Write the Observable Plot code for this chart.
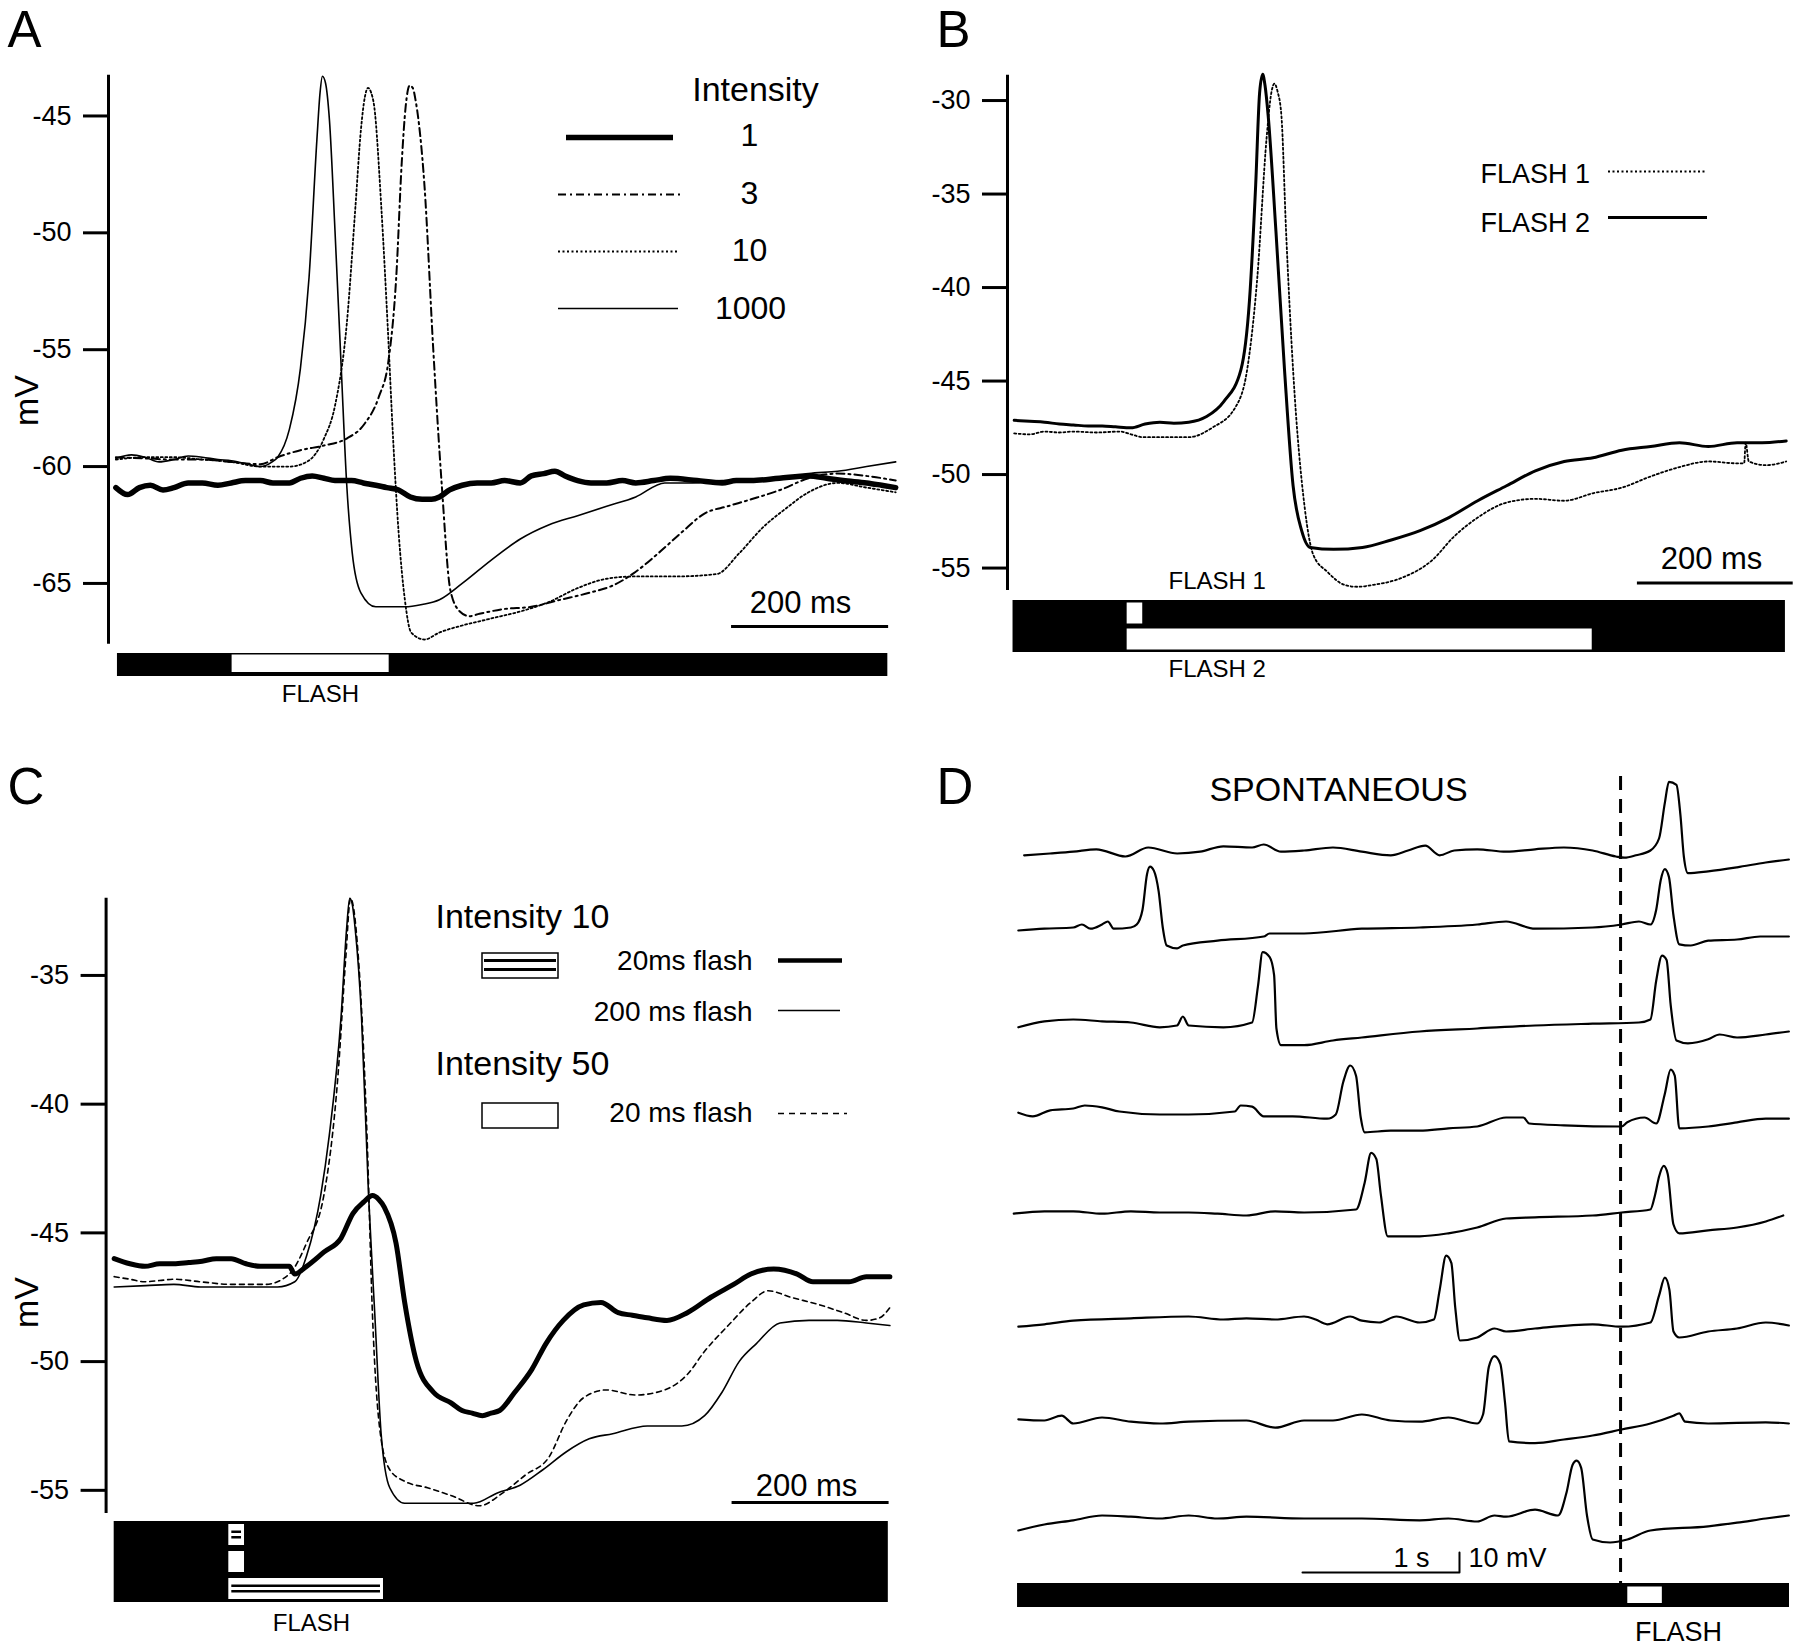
<!DOCTYPE html>
<html>
<head>
<meta charset="utf-8">
<script src="https://cdn.jsdelivr.net/npm/d3@7"></script>
<script src="https://cdn.jsdelivr.net/npm/@observablehq/plot@0.6"></script>
<style>
html, body { margin: 0; padding: 0; background: #fff; }
#fig { position: relative; width: 1800px; height: 1650px; overflow: hidden; background: #fff; color: #000; }
#fig svg { position: absolute; overflow: visible; max-width: none; }
</style>
</head>
<body>
<div id="fig"></div>
<script>
// ---------------- DATA (time in ms or s, membrane potential in mV) ----------------
// Panel A: responses to 200 ms flashes of different intensity
const A_ticks = [-45, -50, -55, -60, -65];
const A_i1 = [[0,-60.9],[15,-61.2],[30,-60.9],[44,-60.8],[60,-61.0],[74,-60.9],[92,-60.7],[110,-60.7],[130,-60.8],[147,-60.7],[165,-60.6],[184,-60.6],[200,-60.7],[221,-60.7],[235,-60.5],[250,-60.4],[265,-60.5],[279,-60.6],[300,-60.6],[315,-60.7],[331,-60.8],[345,-60.9],[360,-61.0],[375,-61.3],[390,-61.4],[402,-61.4],[412,-61.3],[425,-61.0],[441,-60.8],[460,-60.7],[478,-60.7],[495,-60.6],[515,-60.7],[529,-60.4],[545,-60.3],[559,-60.2],[572,-60.4],[588,-60.6],[605,-60.7],[625,-60.7],[645,-60.6],[662,-60.7],[685,-60.6],[706,-60.5],[740,-60.6],[772,-60.7],[790,-60.6],[809,-60.6],[845,-60.5],[882,-60.4],[905,-60.5],[926,-60.6],[956,-60.7],[975,-60.8],[993,-60.9]];
const A_i3 = [[0,-59.6],[37,-59.65],[74,-59.7],[110,-59.7],[147,-59.8],[184,-59.9],[206,-59.6],[235,-59.3],[265,-59.1],[294,-58.8],[316,-58.2],[335,-57.0],[347,-55.5],[357,-51.9],[364,-47.0],[369,-44.6],[374,-43.7],[378,-43.8],[382,-44.4],[393,-48.0],[404,-54.9],[415,-60.8],[426,-65.3],[438,-66.2],[450,-66.4],[463,-66.3],[493,-66.1],[529,-66.0],[566,-65.7],[603,-65.4],[632,-65.1],[662,-64.5],[691,-63.7],[721,-62.8],[750,-62.0],[779,-61.7],[809,-61.4],[846,-61.0],[882,-60.5],[919,-60.3],[956,-60.4],[993,-60.6]];
const A_i10 = [[0,-59.7],[37,-59.6],[74,-59.6],[110,-59.7],[147,-59.8],[184,-60.0],[221,-60.0],[243,-59.8],[265,-58.8],[279,-57.4],[294,-53.9],[305,-48.9],[312,-45.6],[317,-44.2],[321,-43.8],[325,-44.0],[329,-44.6],[338,-48.9],[346,-53.9],[353,-58.8],[360,-62.8],[368,-65.7],[376,-67.1],[393,-67.4],[412,-67.1],[441,-66.8],[478,-66.5],[515,-66.2],[551,-65.8],[588,-65.2],[625,-64.8],[662,-64.7],[713,-64.7],[765,-64.6],[794,-63.7],[824,-62.6],[853,-61.8],[882,-61.1],[919,-60.7],[956,-60.9],[993,-61.1]];
const A_i1000 = [[0,-59.65],[20,-59.5],[37,-59.6],[55,-59.8],[74,-59.7],[92,-59.55],[110,-59.6],[130,-59.7],[147,-59.75],[169,-59.9],[184,-60.0],[199,-59.8],[206,-59.6],[221,-58.4],[235,-55.8],[246,-51.9],[256,-46.0],[260,-44.0],[263,-43.3],[267,-43.6],[272,-45.2],[279,-49.9],[287,-55.8],[294,-60.8],[301,-63.7],[312,-65.4],[331,-66.0],[368,-66.0],[390,-65.9],[412,-65.7],[441,-65.0],[478,-64.0],[515,-63.1],[551,-62.5],[588,-62.1],[625,-61.7],[662,-61.3],[699,-60.7],[735,-60.7],[772,-60.6],[809,-60.6],[846,-60.5],[882,-60.3],[919,-60.2],[956,-60.0],[993,-59.8]];
const A_flash = [{t1: 148, t2: 348}];
const A_stimulusSpan = [{t1: 2, t2: 983}];
const A_scaleBar = [{t1: 784, t2: 984}];

// Panel B: FLASH 1 (20 ms) vs FLASH 2 (600 ms)
const B_ticks = [-30, -35, -40, -45, -50, -55];
const B_flash2 = [[0,-47.1],[20,-47.15],[39,-47.2],[58,-47.3],[76,-47.35],[95,-47.4],[113,-47.4],[130,-47.45],[150,-47.5],[168,-47.3],[187,-47.2],[205,-47.25],[224,-47.2],[247,-46.9],[269,-46.1],[291,-44.4],[302,-40.7],[310,-34.5],[315,-29.6],[319,-28.6],[322,-29.2],[326,-30.8],[336,-37.0],[347,-44.4],[358,-50.6],[369,-53.0],[380,-53.9],[410,-54.0],[447,-53.9],[484,-53.5],[521,-53.0],[558,-52.3],[595,-51.4],[632,-50.6],[669,-49.8],[706,-49.3],[743,-49.1],[780,-48.7],[817,-48.5],[854,-48.3],[891,-48.5],[928,-48.3],[960,-48.3],[991,-48.2]];
const B_flash1 = [[0,-47.8],[20,-47.85],[39,-47.7],[58,-47.75],[76,-47.7],[105,-47.75],[136,-47.7],[150,-47.85],[165,-48.0],[195,-48.0],[224,-48.0],[254,-47.5],[284,-46.4],[299,-44.4],[312,-39.5],[324,-32.0],[330,-29.6],[334,-29.1],[338,-29.5],[343,-30.8],[349,-37.0],[358,-44.4],[373,-51.8],[384,-54.3],[402,-55.2],[424,-55.9],[440,-56.0],[461,-55.9],[499,-55.5],[536,-54.6],[565,-53.3],[595,-52.3],[632,-51.5],[669,-51.3],[706,-51.4],[743,-51.0],[780,-50.7],[817,-50.1],[854,-49.6],[891,-49.3],[928,-49.4],[937,-49.4],[939,-48.3],[943,-49.3],[965,-49.5],[991,-49.3]];
const B_rows = ["FLASH 1", "FLASH 2"];
const B_flashes = [{row: "FLASH 1", t1: 145, t2: 165}, {row: "FLASH 2", t1: 145, t2: 742}];
const B_stimulusSpan = [{t1: -1.5, t2: 990}];
const B_scaleBar = [{t1: 800, t2: 1000}];

// Panel C: intensity 10 (20 ms, 200 ms) and intensity 50 (20 ms)
const C_ticks = [-35, -40, -45, -50, -55];
const C_i10_20 = [[0,-46.0],[20,-46.2],[39,-46.3],[58,-46.2],[76,-46.2],[95,-46.15],[112,-46.1],[130,-46.0],[149,-46.0],[168,-46.2],[186,-46.3],[205,-46.3],[223,-46.3],[230,-46.6],[245,-46.3],[267,-45.75],[289,-45.2],[304,-44.25],[318,-43.8],[329,-43.55],[337,-43.7],[344,-44.0],[359,-45.4],[370,-47.7],[385,-50.0],[407,-51.2],[429,-51.6],[443,-51.9],[456,-52.0],[469,-52.1],[480,-52.0],[491,-51.9],[510,-51.2],[532,-50.3],[550,-49.3],[572,-48.4],[598,-47.8],[620,-47.7],[642,-48.1],[660,-48.2],[679,-48.3],[704,-48.4],[730,-48.1],[760,-47.5],[789,-47.0],[811,-46.6],[840,-46.4],[870,-46.6],[890,-46.9],[907,-46.9],[936,-46.9],[958,-46.7],[988,-46.7]];
const C_i10_200 = [[0,-47.1],[40,-47.05],[76,-47.0],[110,-47.1],[149,-47.1],[180,-47.1],[208,-47.1],[230,-46.9],[245,-45.9],[263,-43.55],[274,-41.2],[289,-36.6],[296,-33.2],[300,-32.0],[303,-32.2],[307,-33.2],[315,-36.6],[324,-43.55],[332,-48.2],[340,-52.8],[351,-54.9],[370,-55.5],[414,-55.5],[458,-55.5],[488,-55.1],[517,-54.8],[546,-54.2],[576,-53.5],[605,-53.0],[635,-52.8],[679,-52.5],[723,-52.5],[752,-52.1],[774,-51.2],[796,-50.0],[818,-49.3],[848,-48.5],[885,-48.4],[921,-48.4],[958,-48.5],[988,-48.6]];
const C_i50_20 = [[0,-46.7],[20,-46.8],[39,-46.9],[58,-46.85],[76,-46.8],[110,-46.9],[149,-47.0],[193,-47.0],[223,-46.6],[245,-45.4],[267,-43.55],[285,-38.9],[295,-34.3],[301,-32.0],[305,-32.4],[311,-34.3],[322,-41.2],[329,-48.2],[339,-52.8],[351,-54.2],[370,-54.65],[399,-54.9],[429,-55.2],[465,-55.6],[495,-55.1],[524,-54.4],[554,-53.7],[576,-52.3],[598,-51.4],[627,-51.1],[664,-51.3],[701,-51.1],[730,-50.5],[752,-49.6],[782,-48.6],[811,-47.7],[833,-47.25],[862,-47.5],[899,-47.8],[929,-48.1],[958,-48.4],[975,-48.3],[988,-47.9]];
const C_rows = ["int10_20ms", "int50_20ms", "int10_200ms"];
const C_flashes = [
  {row: "int10_20ms", t1: 146, t2: 166, striped: true},
  {row: "int50_20ms", t1: 146, t2: 166, striped: false},
  {row: "int10_200ms", t1: 146, t2: 343, striped: true}
];
const C_stimulusSpan = [{t1: 0, t2: 986}];
const C_scaleBar = [{t1: 787, t2: 987}];

// Panel D: spontaneous spikes and flash-evoked spikes (time in s, mV relative to each trace's rest)
const D_row1 = [[0.055,-0.9],[0.22,0],[0.368,0.9],[0.515,2.1],[0.70,-1.5],[0.846,3.0],[1.03,0],[1.176,0.9],[1.324,3.6],[1.507,3.0],[1.581,4.5],[1.691,0.9],[1.838,1.5],[2.022,3.0],[2.206,0.9],[2.39,-0.9],[2.5,1.5],[2.61,3.9],[2.702,-0.9],[2.794,1.5],[2.941,2.1],[3.125,0.9],[3.309,2.1],[3.493,3.0],[3.676,1.5],[3.824,-1.5],[3.879,-2.1],[3.952,-0.9],[4.044,1.5],[4.099,7.5],[4.136,25.3],[4.162,35.8],[4.21,34.3],[4.235,19.4],[4.257,-1.5],[4.283,-9.8],[4.412,-8.9],[4.596,-6.9],[4.779,-4.5],[4.926,-3.0]];
const D_row2 = [[0.018,0],[0.184,0.9],[0.368,1.5],[0.423,3.0],[0.478,0.9],[0.551,3.0],[0.588,4.5],[0.625,0.9],[0.735,1.5],[0.772,3.0],[0.809,10.4],[0.838,28.3],[0.857,31.9],[0.882,29.8],[0.912,19.4],[0.938,1.5],[0.963,-7.5],[1.029,-8.9],[1.066,-7.5],[1.287,-5.1],[1.581,-3.0],[1.618,-1.5],[1.838,-1.5],[2.206,0.9],[2.574,1.5],[2.941,3.0],[3.125,4.5],[3.309,0.9],[3.676,1.5],[3.86,3.0],[3.971,4.5],[4.044,3.0],[4.081,10.4],[4.11,25.3],[4.136,30.7],[4.162,26.8],[4.191,7.5],[4.228,-6.9],[4.301,-7.5],[4.412,-5.1],[4.596,-4.5],[4.743,-3.0],[4.926,-3.0]];
const D_row3 = [[0.018,-0.9],[0.184,2.1],[0.368,3.0],[0.551,2.1],[0.735,1.5],[0.919,-0.9],[1.029,0],[1.066,4.5],[1.103,0],[1.324,-0.9],[1.507,1.5],[1.544,19.4],[1.574,36.7],[1.618,34.3],[1.647,25.3],[1.662,-1.5],[1.691,-9.8],[1.838,-9.8],[2.022,-7.5],[2.206,-6.0],[2.574,-3.0],[2.941,-1.5],[3.309,0],[3.676,0.9],[3.971,1.5],[4.044,3.0],[4.081,22.4],[4.118,34.9],[4.147,32.8],[4.173,10.4],[4.21,-7.5],[4.283,-8.9],[4.412,-6.9],[4.485,-4.5],[4.596,-6.0],[4.779,-4.5],[4.926,-3.0]];
const D_row4 = [[0.018,0.9],[0.11,-0.9],[0.221,2.1],[0.368,3.0],[0.441,4.5],[0.551,3.6],[0.662,1.5],[0.919,0],[1.103,0],[1.397,1.5],[1.434,4.5],[1.507,3.9],[1.581,-0.9],[1.765,-0.9],[1.985,-2.1],[2.04,0],[2.088,16.4],[2.132,24.5],[2.169,19.4],[2.199,-1.5],[2.224,-8.9],[2.39,-8.1],[2.574,-8.1],[2.757,-6.9],[2.941,-6.0],[3.125,-1.5],[3.235,-1.5],[3.272,-4.5],[3.493,-5.4],[3.86,-6.0],[3.897,-3.9],[4.007,-1.5],[4.081,-4.5],[4.136,10.4],[4.173,22.4],[4.199,19.4],[4.228,-6.9],[4.412,-6.0],[4.596,-3.9],[4.779,-2.1],[4.926,-2.1]];
const D_row5 = [[-0.011,-0.6],[0.184,0.6],[0.368,0.6],[0.551,-0.6],[0.735,0.6],[0.919,0],[1.103,0],[1.287,-0.6],[1.471,-1.5],[1.654,0.6],[1.838,0],[2.169,1.5],[2.224,14.9],[2.265,29.8],[2.298,26.8],[2.327,8.9],[2.371,-11.9],[2.574,-11.9],[2.757,-10.4],[2.941,-7.5],[3.125,-3.0],[3.309,-2.4],[3.676,-1.5],[3.86,0],[4.044,1.5],[4.074,8.9],[4.099,17.9],[4.129,23.3],[4.154,19.4],[4.191,-6.0],[4.228,-10.4],[4.412,-8.9],[4.596,-7.5],[4.779,-4.5],[4.89,-1.5]];
const D_row6 = [[0.018,-0.6],[0.184,0.6],[0.368,2.4],[0.735,3.6],[1.103,4.5],[1.324,3.0],[1.471,3.6],[1.654,3.0],[1.838,4.5],[1.912,3.0],[1.985,0.6],[2.132,4.5],[2.206,2.4],[2.316,1.5],[2.426,4.5],[2.574,1.5],[2.665,3.0],[2.702,17.9],[2.743,34.9],[2.776,31.3],[2.801,8.9],[2.831,-7.5],[2.941,-6.0],[3.051,-1.5],[3.125,-3.0],[3.309,-1.5],[3.676,0.6],[3.86,-0.6],[4.044,1.5],[4.099,14.9],[4.136,23.9],[4.165,17.9],[4.191,-3.0],[4.228,-6.0],[4.412,-3.0],[4.596,-1.5],[4.779,1.5],[4.926,0]];
const D_row7 = [[0.018,0.6],[0.184,0],[0.294,2.4],[0.368,-1.5],[0.551,1.5],[0.735,-0.6],[0.919,-1.5],[1.103,-0.6],[1.471,0],[1.654,-3.6],[1.838,0],[2.022,0],[2.206,3.0],[2.39,0],[2.574,-0.6],[2.757,1.5],[2.941,-1.5],[2.978,3.0],[3.015,26.8],[3.051,32.2],[3.088,28.3],[3.118,8.9],[3.143,-10.4],[3.309,-11.3],[3.493,-9.5],[3.676,-7.5],[3.86,-4.5],[4.044,-1.5],[4.191,2.4],[4.228,3.6],[4.265,-0.6],[4.412,-1.5],[4.779,-0.9],[4.926,-1.5]];
const D_row8 = [[0.018,0],[0.184,3.0],[0.368,5.1],[0.551,7.5],[0.735,6.9],[0.919,6.0],[1.103,7.5],[1.287,6.0],[1.471,6.9],[1.838,6.0],[2.206,6.0],[2.574,5.1],[2.757,6.0],[2.941,4.5],[3.051,7.5],[3.125,6.9],[3.309,10.4],[3.456,7.5],[3.511,19.4],[3.548,32.8],[3.574,34.9],[3.603,31.3],[3.64,7.5],[3.676,-4.5],[3.787,-6.0],[3.897,-4.5],[4.044,0],[4.412,2.1],[4.596,3.9],[4.779,6.0],[4.926,7.5]];
const D_rows = [D_row1, D_row2, D_row3, D_row4, D_row5, D_row6, D_row7, D_row8];
const D_rowOffsets = [0, -38.5, -86, -130.5, -179.5, -236, -283.5, -338.5]; // vertical stacking of the 8 sweeps (mV)
const D_flashOnset = [3.854];
const D_flash = [{t1: 3.90, t2: 4.12}];
const D_stimulusSpan = [{t1: 0.013, t2: 4.93}];
const D_scaleBar = {t: 1.828, dur: 1, v: -359.5, mv: 10};

// ---------------- LAYOUT / STYLE ----------------
const FONT = '"Liberation Sans", Arial, Helvetica, sans-serif';
const baseStyle = {background: "transparent", fontFamily: FONT, overflow: "visible", color: "black"};
const CURVE = "monotone-x";
const fig = document.getElementById("fig");
function place(node, left, top) {
  node.style.position = "absolute";
  node.style.left = left + "px";
  node.style.top = top + "px";
  fig.appendChild(node);
}
const pts = (arr) => arr.map(([t, v]) => ({t, v}));
const yAxis = (ticks) => Plot.axisY({ticks, tickSize: 25, tickPadding: 12, strokeWidth: 3, fontSize: 27, tickFormat: d => String(d), label: null});

// ---------------- PANEL A ----------------
const A_x = [-9.4, 992];
const A_y = [-67.6, -43.26];
place(Plot.plot({
  width: 900, height: 660, marginTop: 74.8, marginBottom: 16.3, marginLeft: 108, marginRight: 5.6,
  style: baseStyle,
  x: {domain: A_x, axis: null},
  y: {domain: A_y},
  marks: [
    Plot.ruleX([A_x[0]], {strokeWidth: 3}),
    yAxis(A_ticks),
    Plot.line(pts(A_i1), {x: "t", y: "v", curve: CURVE, strokeWidth: 5.5, strokeLinejoin: "round"}),
    Plot.line(pts(A_i3), {x: "t", y: "v", curve: CURVE, strokeWidth: 2, strokeDasharray: "8,4,2,4"}),
    Plot.line(pts(A_i10), {x: "t", y: "v", curve: CURVE, strokeWidth: 1.8, strokeDasharray: "2,2.5"}),
    Plot.line(pts(A_i1000), {x: "t", y: "v", curve: CURVE, strokeWidth: 1.6}),
    Plot.ruleY(A_scaleBar, {y: () => A_y[0], x1: "t1", x2: "t2", dy: -17.7, strokeWidth: 3})
  ]
}), 0, 0);
place(Plot.plot({
  width: 900, height: 23, margin: 0, marginLeft: 108, marginRight: 5.6,
  style: baseStyle,
  x: {domain: A_x, axis: null},
  marks: [
    Plot.barX(A_stimulusSpan, {x1: "t1", x2: "t2", fill: "black"}),
    Plot.barX(A_flash, {x1: "t1", x2: "t2", fill: "white", insetTop: 1.5, insetBottom: 4})
  ]
}), 0, 653);

// ---------------- PANEL B ----------------
const B_x = [-8.6, 991];
const B_y = [-56.2, -28.65];
place(Plot.plot({
  width: 900, height: 610, marginTop: 74.8, marginBottom: 20, marginLeft: 107, marginRight: 14.3,
  style: baseStyle,
  x: {domain: B_x, axis: null},
  y: {domain: B_y},
  marks: [
    Plot.ruleX([B_x[0]], {strokeWidth: 3}),
    yAxis(B_ticks),
    Plot.line(pts(B_flash1), {x: "t", y: "v", curve: CURVE, strokeWidth: 1.8, strokeDasharray: "2,2.5"}),
    Plot.line(pts(B_flash2), {x: "t", y: "v", curve: CURVE, strokeWidth: 3, strokeLinejoin: "round"}),
    Plot.ruleY(B_scaleBar, {y: () => B_y[0], x1: "t1", x2: "t2", dy: -7.6, strokeWidth: 3})
  ]
}), 900, 0);
place(Plot.plot({
  width: 900, height: 52, margin: 0, marginLeft: 107, marginRight: 14.3,
  style: baseStyle,
  x: {domain: B_x, axis: null},
  y: {domain: B_rows, padding: 0, axis: null},
  marks: [
    Plot.barX(B_stimulusSpan, {x1: "t1", x2: "t2", fill: "black"}),
    Plot.barX(B_flashes, {x1: "t1", x2: "t2", y: "row", fill: "white", insetTop: 2.5, insetBottom: 2.5})
  ]
}), 900, 600);

// ---------------- PANEL C ----------------
const C_x = [-10.3, 987];
const C_y = [-55.9, -32.0];
place(Plot.plot({
  width: 900, height: 770, marginTop: 137.7, marginBottom: 17, marginLeft: 105.6, marginRight: 11.4,
  style: baseStyle,
  x: {domain: C_x, axis: null},
  y: {domain: C_y},
  marks: [
    Plot.ruleX([C_x[0]], {strokeWidth: 3}),
    yAxis(C_ticks),
    Plot.line(pts(C_i50_20), {x: "t", y: "v", curve: CURVE, strokeWidth: 1.6, strokeDasharray: "5,4"}),
    Plot.line(pts(C_i10_200), {x: "t", y: "v", curve: CURVE, strokeWidth: 1.6}),
    Plot.line(pts(C_i10_20), {x: "t", y: "v", curve: CURVE, strokeWidth: 5, strokeLinejoin: "round"}),
    Plot.ruleY(C_scaleBar, {y: () => C_y[0], x1: "t1", x2: "t2", dy: -11, strokeWidth: 3})
  ]
}), 0, 760);
const C_striped = C_flashes.filter(d => d.striped);
place(Plot.plot({
  width: 900, height: 81, margin: 0, marginLeft: 105.6, marginRight: 11.4,
  style: baseStyle,
  x: {domain: C_x, axis: null},
  y: {domain: C_rows, padding: 0, axis: null},
  marks: [
    Plot.barX(C_stimulusSpan, {x1: "t1", x2: "t2", fill: "black"}),
    Plot.barX(C_flashes, {x1: "t1", x2: "t2", y: "row", fill: "white", insetTop: 3, insetBottom: 3}),
    Plot.barX(C_striped, {x1: "t1", x2: "t2", y: "row", fill: "black", insetTop: 9.5, insetBottom: 15, insetLeft: 3, insetRight: 3}),
    Plot.barX(C_striped, {x1: "t1", x2: "t2", y: "row", fill: "black", insetTop: 15, insetBottom: 9.5, insetLeft: 3, insetRight: 3})
  ]
}), 0, 1521);

// ---------------- PANEL D ----------------
const D_x = [0, 4.93];
const D_y = [-398.5, 66.5];
const D_lines = D_rows.map((row, i) => Plot.line(row.map(([t, v]) => ({t, v: v + D_rowOffsets[i]})), {x: "t", y: "v", curve: CURVE, strokeWidth: 2.2, strokeLinejoin: "round"}));
const D_bar = [
  {t: D_scaleBar.t, v: D_scaleBar.v},
  {t: D_scaleBar.t + D_scaleBar.dur, v: D_scaleBar.v},
  {t: D_scaleBar.t + D_scaleBar.dur, v: D_scaleBar.v + D_scaleBar.mv}
];
place(Plot.plot({
  width: 900, height: 930, margin: 0, marginLeft: 115, marginRight: 11,
  style: baseStyle,
  x: {domain: D_x, axis: null},
  y: {domain: D_y, axis: null},
  marks: [
    ...D_lines,
    Plot.ruleX(D_flashOnset, {strokeWidth: 3, strokeDasharray: "14,9", insetTop: 56, insetBottom: 67}),
    Plot.line(D_bar, {x: "t", y: "v", strokeWidth: 2})
  ]
}), 900, 720);
place(Plot.plot({
  width: 900, height: 24, margin: 0, marginLeft: 115, marginRight: 11,
  style: baseStyle,
  x: {domain: D_x, axis: null},
  marks: [
    Plot.barX(D_stimulusSpan, {x1: "t1", x2: "t2", fill: "black"}),
    Plot.barX(D_flash, {x1: "t1", x2: "t2", fill: "white", insetTop: 3.5, insetBottom: 4})
  ]
}), 900, 1583);

// ---------------- TEXT & LEGENDS (pixel layout) ----------------
const labelsStart = [
  {s: "A", x: 7, y: 30, size: 51}, {s: "B", x: 936, y: 30, size: 51},
  {s: "C", x: 7, y: 787, size: 51}, {s: "D", x: 936, y: 787, size: 51},
  {s: "FLASH 1", x: 1480, y: 174, size: 27}, {s: "FLASH 2", x: 1480, y: 223, size: 27},
  {s: "FLASH 1", x: 1168, y: 581, size: 24}, {s: "FLASH 2", x: 1168, y: 669, size: 24},
  {s: "Intensity 10", x: 435, y: 917, size: 34}, {s: "Intensity 50", x: 435, y: 1064, size: 34},
  {s: "10 mV", x: 1468, y: 1558, size: 27}
];
const labelsMiddle = [
  {s: "Intensity", x: 755, y: 90, size: 34},
  {s: "1", x: 749, y: 135, size: 32}, {s: "3", x: 749, y: 193, size: 32},
  {s: "10", x: 749, y: 250, size: 32}, {s: "1000", x: 750, y: 308, size: 32},
  {s: "200 ms", x: 800, y: 603, size: 31}, {s: "FLASH", x: 320, y: 694, size: 24},
  {s: "200 ms", x: 1711, y: 559, size: 31},
  {s: "200 ms", x: 806, y: 1486, size: 31}, {s: "FLASH", x: 311, y: 1623, size: 24},
  {s: "SPONTANEOUS", x: 1338, y: 790, size: 34},
  {s: "1 s", x: 1411, y: 1558, size: 27}, {s: "FLASH", x: 1678, y: 1632, size: 27}
];
const labelsEnd = [
  {s: "20ms flash", x: 752, y: 961, size: 28},
  {s: "200 ms flash", x: 752, y: 1012, size: 28},
  {s: "20 ms flash", x: 752, y: 1113, size: 28}
];
const labelsRot = [{s: "mV", x: 27, y: 400, size: 34}, {s: "mV", x: 27, y: 1302, size: 34}];
const legendLines = [
  {x1: 566, x2: 673, y: 137, w: 5.5, dash: null},
  {x1: 558, x2: 682, y: 194, w: 2.2, dash: "8,4,2,4"},
  {x1: 558, x2: 678, y: 251, w: 2, dash: "2,2.5"},
  {x1: 558, x2: 678, y: 308, w: 1.5, dash: null},
  {x1: 1608, x2: 1707, y: 171, w: 1.8, dash: "2,2.5"},
  {x1: 1608, x2: 1707, y: 217, w: 3, dash: null},
  {x1: 778, x2: 842, y: 960, w: 4.5, dash: null},
  {x1: 778, x2: 840, y: 1010, w: 1.5, dash: null},
  {x1: 778, x2: 847, y: 1113, w: 1.6, dash: "6,5"}
];
const legendBoxes = [{x1: 482, x2: 558, y1: 953, y2: 978}, {x1: 482, x2: 558, y1: 1103, y2: 1128}];
const legendStripes = [{x1: 484, x2: 556, y1: 959, y2: 962}, {x1: 484, x2: 556, y1: 968, y2: 971}];

const textMark = (data, anchor, extra = {}) => Plot.text(data, {x: "x", y: "y", text: "s", fontSize: d => d.size, textAnchor: anchor, fill: "black", ...extra});
place(Plot.plot({
  width: 1800, height: 1650, margin: 0,
  style: baseStyle,
  x: {type: "identity", axis: null},
  y: {type: "identity", axis: null},
  marks: [
    textMark(labelsStart, "start"),
    textMark(labelsMiddle, "middle"),
    textMark(labelsEnd, "end"),
    textMark(labelsRot, "middle", {rotate: -90}),
    ...legendLines.map(d => Plot.ruleY([d], {y: "y", x1: "x1", x2: "x2", strokeWidth: d.w, strokeDasharray: d.dash ?? undefined})),
    Plot.rect(legendBoxes, {x1: "x1", x2: "x2", y1: "y1", y2: "y2", fill: "white", stroke: "black", strokeWidth: 1.5}),
    Plot.rect(legendStripes, {x1: "x1", x2: "x2", y1: "y1", y2: "y2", fill: "black"})
  ]
}), 0, 0);
</script>
</body>
</html>
